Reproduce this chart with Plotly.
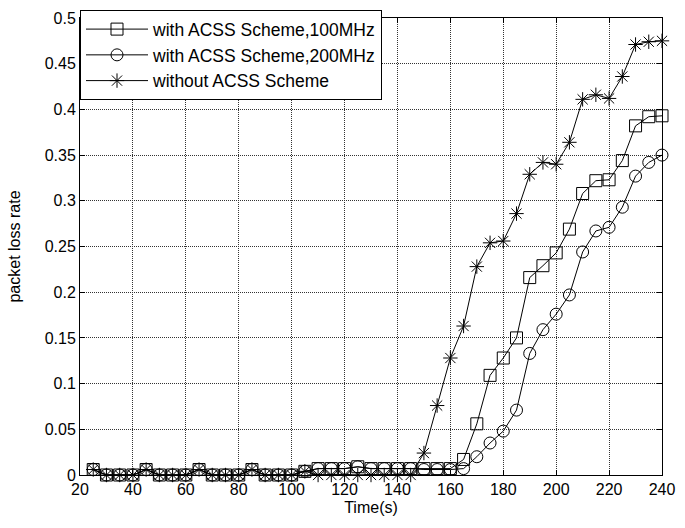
import plotly.graph_objects as go

time_s = [25, 30, 35, 40, 45, 50, 55, 60, 65, 70, 75, 80, 85, 90, 95, 100,
          105, 110, 115, 120, 125, 130, 135, 140, 145, 150, 155, 160, 165, 170,
          175, 180, 185, 190, 195, 200, 205, 210, 215, 220, 225, 230, 235, 240]

acss_100 = [0.006, 0, 0, 0, 0.006, 0, 0, 0, 0.006, 0, 0, 0, 0.006, 0, 0, 0,
            0.004, 0.007, 0.007, 0.007, 0.009, 0.007, 0.007, 0.007, 0.007, 0.007, 0.007, 0.007, 0.017, 0.056,
            0.109, 0.128, 0.150, 0.216, 0.229, 0.243, 0.269, 0.308, 0.322, 0.323, 0.344, 0.382, 0.392, 0.393]

acss_200 = [0.006, 0, 0, 0, 0.006, 0, 0, 0, 0.006, 0, 0, 0, 0.006, 0, 0, 0,
            0.004, 0.007, 0.007, 0.007, 0.009, 0.007, 0.007, 0.007, 0.007, 0.006, 0.006, 0.006, 0.007, 0.020,
            0.035, 0.048, 0.071, 0.133, 0.159, 0.176, 0.197, 0.244, 0.267, 0.271, 0.293, 0.327, 0.342, 0.350]

no_acss = [0.006, 0, 0, 0, 0.006, 0, 0, 0, 0.006, 0, 0, 0, 0.006, 0, 0, 0,
           0.004, 0, 0, 0, 0, 0, 0, 0, 0, 0.024, 0.076, 0.128, 0.163, 0.228,
           0.254, 0.256, 0.286, 0.329, 0.342, 0.340, 0.364, 0.411, 0.416, 0.412, 0.436, 0.471, 0.474, 0.475]

names = ["with ACSS Scheme,100MHz", "with ACSS Scheme,200MHz", "without ACSS Scheme"]
symbols = ["square-open", "circle-open", "asterisk-open"]
series = [acss_100, acss_200, no_acss]

FONT = "Liberation Sans, Arial, sans-serif"

fig = go.Figure()
for i, (nm, sym, ys) in enumerate(zip(names, symbols, series)):
    fig.add_trace(go.Scatter(
        x=time_s, y=ys, name=nm, mode="lines+markers",
        line=dict(color="black", width=1),
        marker=dict(symbol=sym, size=12, color="black", line=dict(color="black", width=1)),
        cliponaxis=False,
    ))

axis_common = dict(
    showline=True, linecolor="black", linewidth=1, mirror="allticks",
    ticks="inside", ticklen=5, tickcolor="black",
    showgrid=True, gridcolor="#333333", gridwidth=1, griddash="1px,1px",
    zeroline=False, tickfont=dict(family=FONT, size=16, color="black"),
)

fig.update_xaxes(range=[20, 240], dtick=20, tick0=20,
                 title=dict(text="Time(s)", font=dict(family=FONT, size=16, color="black"), standoff=4),
                 **axis_common)
fig.update_yaxes(range=[0, 0.5], dtick=0.05, tick0=0,
                 title=dict(text="packet loss rate", font=dict(family=FONT, size=16, color="black"), standoff=20),
                 **axis_common)

fig.update_layout(
    width=685, height=528,
    margin=dict(l=80, r=15, t=10, b=53),
    paper_bgcolor="white", plot_bgcolor="white",
    font=dict(family=FONT, color="black"),
    legend=dict(x=0, y=1.017, xanchor="left", yanchor="top",
                bgcolor="white", bordercolor="black", borderwidth=1,
                font=dict(family=FONT, size=17.5, color="black"),
                itemwidth=62, tracegroupgap=0),
    showlegend=True,
)

fig.write_html("out.html")
